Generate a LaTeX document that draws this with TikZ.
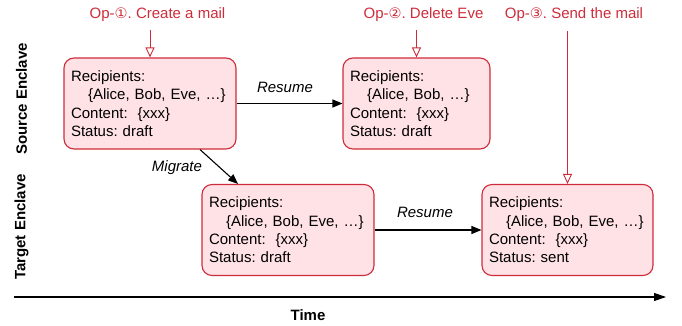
\documentclass[tikz,border=0pt]{standalone}
\usepackage{fontspec}
\setmainfont{Liberation Sans}
\newfontfamily\symfont{DejaVu Sans}
\usetikzlibrary{arrows.meta}
\definecolor{opred}{RGB}{206,44,58}
\definecolor{boxfill}{RGB}{255,226,230}
\newcommand{\circnum}[1]{{\symfont\fontsize{14.5}{14.5}\selectfont #1}}
\frenchspacing
\begin{document}
\begin{tikzpicture}[x=1pt,y=-1pt,
  every node/.style={font=\fontsize{15}{18.3}\selectfont},
  mailbox/.style={draw=opred,fill=boxfill,line width=1.1pt,rounded corners=10pt,
    inner xsep=7pt,inner ysep=4pt,align=left,minimum height=91pt},
  oplabel/.style={text=opred,anchor=base},
  opline/.style={draw=opred,line width=0.9pt,-{Triangle[open,length=10pt,width=9pt]}},
  flow/.style={line width=1.1pt,-{Triangle[length=10pt,width=8pt]}},
  steplabel/.style={anchor=base,font=\fontsize{15}{18}\selectfont\itshape},
  lanelabel/.style={rotate=90,font=\fontsize{15}{18}\selectfont\bfseries}]
\useasboundingbox (0,0) rectangle (682,326);

% mail states
\node[mailbox,text width=158pt] (A) at (150,103.5) {Recipients:\\\hspace*{17pt}\{Alice, Bob, Eve, …\}\\Content:\ \ \{xxx\}\\Status: draft};
\node[mailbox,text width=133pt] (B) at (416.5,103.5) {Recipients:\\\hspace*{17pt}\{Alice, Bob, …\}\\Content:\ \ \{xxx\}\\Status: draft};
\node[mailbox,text width=158pt] (C) at (288,230) {Recipients:\\\hspace*{17pt}\{Alice, Bob, Eve, …\}\\Content:\ \ \{xxx\}\\Status: draft};
\node[mailbox,text width=157pt] (D) at (567.5,230) {Recipients:\\\hspace*{17pt}\{Alice, Bob, Eve, …\}\\Content:\ \ \{xxx\}\\Status: sent};

% operations
\node[oplabel] (op1) at (157.5,19) {Op-\circnum{①}. Create a mail};
\node[oplabel] (op2) at (423.5,19) {Op-\circnum{②}. Delete Eve};
\node[oplabel] (op3) at (574,19) {Op-\circnum{③}. Send the mail};
\coordinate (s1) at (150,30);
\coordinate (s2) at (416.5,30);
\coordinate (s3) at (567.5,31);
\draw[opline] (s1) -- (A.north);
\draw[opline] (s2) -- (B.north);
\draw[opline] (s3) -- (D.north);

% transitions
\draw[flow] (A.east) -- (B.west);
\node[steplabel] (r1) at (285,93) {Resume};
\draw[flow] ([xshift=50pt]A.south) -- ([xshift=-50pt]C.north);
\node[steplabel] (mg) at (177,171) {Migrate};
\draw[flow] (C.east) -- (D.west);
\node[steplabel] (r2) at (425,217) {Resume};

% lanes and time axis
\node[lanelabel] (src) at (21.5,99) {Source Enclave};
\node[lanelabel] (tgt) at (21.5,227) {Target Enclave};
\coordinate (t0) at (14,297);
\coordinate (t1) at (666,297);
\draw[line width=1.1pt,-{Triangle[length=12pt,width=8pt]}] (t0) -- (t1);
\node[anchor=base,font=\fontsize{15}{18}\selectfont\bfseries] (time) at (308,320) {Time};
\end{tikzpicture}
\end{document}
